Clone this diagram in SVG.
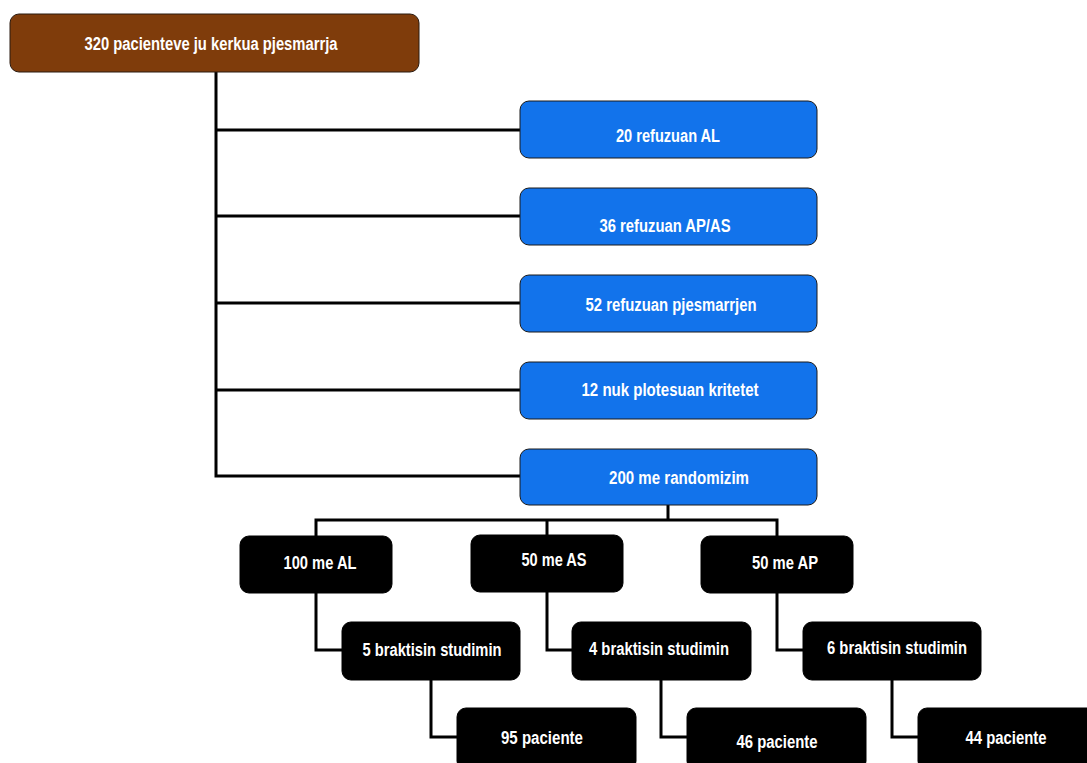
<svg xmlns="http://www.w3.org/2000/svg" width="1087" height="763" viewBox="0 0 1087 763">
<style>
.brown{fill:#7f3c0b;stroke:#2a1a10;stroke-width:1}
.blue{fill:#1273eb;stroke:#1a1a1a;stroke-width:1}
.black{fill:#000;stroke:#000;stroke-width:1}
.t{font-family:"Liberation Sans Narrow","Liberation Sans",Arial,sans-serif;font-weight:bold;font-size:18px;fill:#fff;text-anchor:middle}
.c{fill:none;stroke:#000;stroke-width:3;stroke-linejoin:miter}
</style>
<rect width="1087" height="763" fill="#fff"/>
<g id="connectors">
<path class="c" d="M216 72V476H520M216 130H520M216 216H520M216 303H520M216 390H520"/>
<path class="c" d="M668 505V520M316 536V520H777V536M547 520V535"/>
<path class="c" d="M316 593V650H342M547 592V650H572M777 593V650H803"/>
<path class="c" d="M431 680V737H457M661 680V737H687M892 680V737H918"/>
</g>
<g id="n0"><rect class="brown" x="10" y="14" width="409" height="58" rx="9"/><text class="t" x="211" y="50" textLength="253" lengthAdjust="spacingAndGlyphs">320 pacienteve ju kerkua pjesmarrja</text></g>
<g id="n1"><rect class="blue" x="520" y="101" width="297" height="57" rx="9"/><text class="t" x="668" y="142" textLength="104" lengthAdjust="spacingAndGlyphs">20 refuzuan AL</text></g>
<g id="n2"><rect class="blue" x="520" y="188" width="297" height="57" rx="9"/><text class="t" x="665" y="232" textLength="131" lengthAdjust="spacingAndGlyphs">36 refuzuan AP/AS</text></g>
<g id="n3"><rect class="blue" x="520" y="275" width="297" height="57" rx="9"/><text class="t" x="671" y="311" textLength="171" lengthAdjust="spacingAndGlyphs">52 refuzuan pjesmarrjen</text></g>
<g id="n4"><rect class="blue" x="520" y="362" width="297" height="57" rx="9"/><text class="t" x="670" y="396" textLength="177" lengthAdjust="spacingAndGlyphs">12 nuk plotesuan kritetet</text></g>
<g id="n5"><rect class="blue" x="520" y="449" width="297" height="56" rx="9"/><text class="t" x="679" y="484" textLength="140" lengthAdjust="spacingAndGlyphs">200 me randomizim</text></g>
<g id="n6"><rect class="black" x="240" y="536" width="152" height="57" rx="9"/><text class="t" x="320" y="569" textLength="73" lengthAdjust="spacingAndGlyphs">100 me AL</text></g>
<g id="n7"><rect class="black" x="471" y="535" width="152" height="57" rx="9"/><text class="t" x="554" y="566" textLength="65" lengthAdjust="spacingAndGlyphs">50 me AS</text></g>
<g id="n8"><rect class="black" x="701" y="536" width="152" height="57" rx="9"/><text class="t" x="785" y="569" textLength="66" lengthAdjust="spacingAndGlyphs">50 me AP</text></g>
<g id="n9"><rect class="black" x="342" y="622" width="178" height="58" rx="9"/><text class="t" x="432" y="656" textLength="139" lengthAdjust="spacingAndGlyphs">5 braktisin studimin</text></g>
<g id="n10"><rect class="black" x="572" y="622" width="179" height="58" rx="9"/><text class="t" x="659" y="655" textLength="140" lengthAdjust="spacingAndGlyphs">4 braktisin studimin</text></g>
<g id="n11"><rect class="black" x="803" y="622" width="178" height="58" rx="9"/><text class="t" x="897" y="654" textLength="140" lengthAdjust="spacingAndGlyphs">6 braktisin studimin</text></g>
<g id="n12"><rect class="black" x="457" y="708" width="179" height="62" rx="9"/><text class="t" x="542" y="744" textLength="82" lengthAdjust="spacingAndGlyphs">95 paciente</text></g>
<g id="n13"><rect class="black" x="687" y="708" width="179" height="62" rx="9"/><text class="t" x="777" y="748" textLength="81" lengthAdjust="spacingAndGlyphs">46 paciente</text></g>
<g id="n14"><rect class="black" x="918" y="708" width="179" height="62" rx="9"/><text class="t" x="1006" y="744" textLength="81" lengthAdjust="spacingAndGlyphs">44 paciente</text></g>
</svg>
